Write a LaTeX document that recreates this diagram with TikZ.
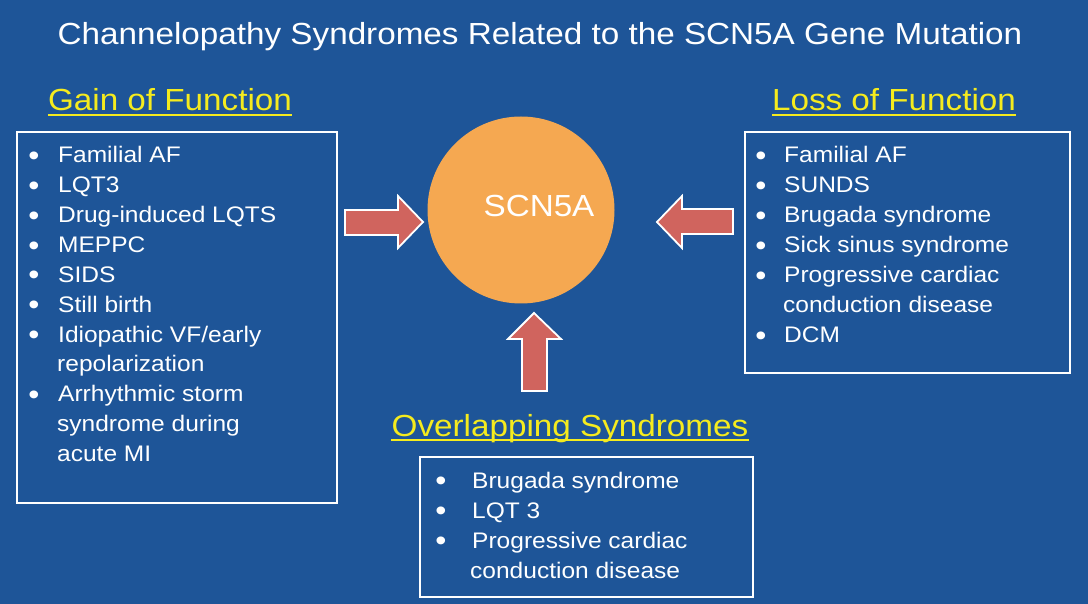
\documentclass[tikz,border=0pt]{standalone}
\usepackage{fontspec}
\setmainfont{Liberation Sans}[FakeStretch=1.09]
\usetikzlibrary{shapes.geometric}
\definecolor{bg}{HTML}{1E5598}
\definecolor{orb}{HTML}{F5A851}
\definecolor{arr}{HTML}{D0645E}
\definecolor{hd}{HTML}{F5EB1E}
\begin{document}
\begin{tikzpicture}[x=1pt,y=-1pt,
  item/.style={anchor=base west,text=white,inner sep=0pt,font=\fontsize{22.5}{26}\selectfont},
  bul/.style={anchor=base,text=white,inner sep=0pt,yshift=-2.5pt,font=\fontsize{29}{30}\selectfont},
  head/.style={anchor=base,text=hd,inner sep=0pt,font=\fontsize{30.5}{34}\selectfont},
  uline/.style={draw=hd,line width=2.4pt},
  boxx/.style={draw=white,line width=1.6pt},
  arrw/.style={fill=arr,draw=white,line width=1.8pt,line join=miter}]
\fill[bg] (0,0) rectangle (1088,604);
\useasboundingbox (0,0) rectangle (1088,604);
\node[anchor=base,text=white,inner sep=0pt,font=\fontsize{30.5}{34}\selectfont] (title) at (540,45) {Channelopathy Syndromes Related to the SCN5A Gene Mutation};
% headings
\node[head] (gain) at (170,111) {Gain of Function};
\node[head] (loss) at (894,111) {Loss of Function};
\node[head] (over) at (570,436) {Overlapping Syndromes};
\foreach \n in {gain,loss,over}{
  \draw[uline] ([yshift=-4pt]\n.base west) -- ([yshift=-4pt]\n.base east);
}
% boxes
\draw[boxx] (17,132) rectangle (337,503);
\draw[boxx] (745,132) rectangle (1070,373);
\draw[boxx] (420,457) rectangle (753,597);
% centre
\node[fill=orb,ellipse,minimum width=187pt,minimum height=187pt,inner sep=0pt] (scn) at (521,210) {};
\node[anchor=base,text=white,inner sep=0pt,font=\fontsize{30.5}{34}\selectfont] (scnt) at (539,217) {SCN5A};
% arrows
\draw[arrw] (345,210) -- (398,210) -- (398,196) -- (423,222) -- (398,248) -- (398,235) -- (345,235) -- cycle;
\draw[arrw] (733,209) -- (682,209) -- (682,196) -- (657,222) -- (682,248) -- (682,234) -- (733,234) -- cycle;
\draw[arrw] (522,391) -- (522,339) -- (508,339) -- (534,313) -- (561,339) -- (547,339) -- (547,391) -- cycle;
% left list
\foreach \t/\b/\xx [count=\i from 0] in {Familial AF/1/58,LQT3/1/58,Drug-induced LQTS/1/58,MEPPC/1/58,SIDS/1/58,Still birth/1/58,{Idiopathic VF/early}/1/58,repolarization/0/57,Arrhythmic storm/1/58,syndrome during/0/57,acute MI/0/57}{
  \pgfmathsetmacro\yy{163+29.85*\i}
  \node[item] (l\i) at (\xx,\yy) {\t};
  \ifnum\b=1 \node[bul] (lb\i) at (34,\yy) {•};\fi
}
% right list
\foreach \t/\b/\xx [count=\i from 0] in {Familial AF/1/784,SUNDS/1/784,Brugada syndrome/1/784,Sick sinus syndrome/1/784,Progressive cardiac/1/784,conduction disease/0/783,DCM/1/784}{
  \pgfmathsetmacro\yy{163+29.95*\i}
  \node[item] (r\i) at (\xx,\yy) {\t};
  \ifnum\b=1 \node[bul] (rb\i) at (761,\yy) {•};\fi
}
% bottom list
\foreach \t/\b/\xx [count=\i from 0] in {Brugada syndrome/1/472,LQT 3/1/472,Progressive cardiac/1/472,conduction disease/0/470}{
  \pgfmathsetmacro\yy{488+30*\i}
  \node[item] (b\i) at (\xx,\yy) {\t};
  \ifnum\b=1 \node[bul] (bb\i) at (441,\yy) {•};\fi
}
\end{tikzpicture}
\end{document}
